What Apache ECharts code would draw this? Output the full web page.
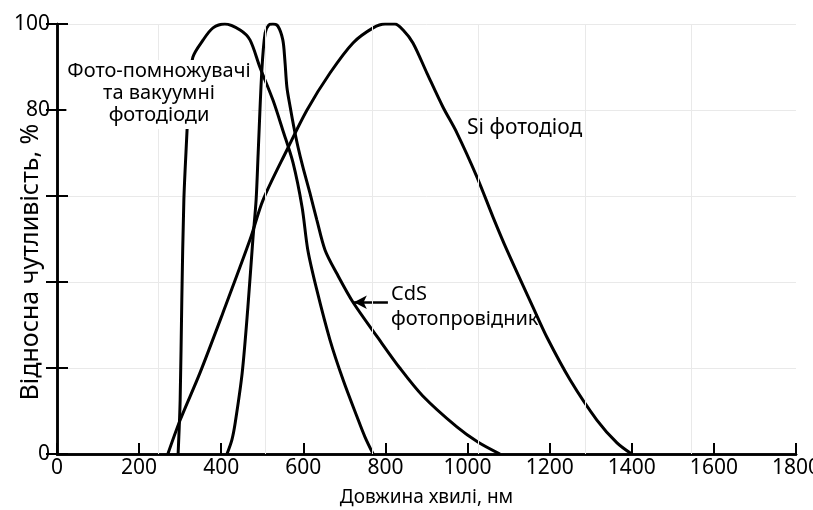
<!DOCTYPE html>
<html>
<head>
<meta charset="utf-8">
<script src="https://cdn.jsdelivr.net/npm/echarts@6/dist/echarts.min.js"></script>
<style>
  html, body { margin: 0; padding: 0; background: #fff; }
  #chart { width: 813px; height: 510px; }
</style>
</head>
<body>
<div id="chart"></div>
<script>
// відносна чутливість, % (довжина хвилі нм -> %)
var pmtX = [295, 300, 304, 309, 317, 321, 331, 356, 380, 409, 446, 470, 494, 526, 550, 575, 597, 611, 633, 665, 697, 731, 750, 770];
var pmtY = [0, 12.6, 35.8, 59.1, 75.8, 84.7, 92.3, 96.3, 99.1, 100, 98.6, 96.3, 90, 82.3, 75.3, 67.7, 57.4, 47.4, 38.1, 26.5, 17.2, 8.6, 4, 0];

var cdsX = [414, 426, 434, 451, 465, 477, 485, 490, 499, 507, 516, 526, 538, 550, 555, 560, 568, 577, 587, 599, 616, 633, 653, 682, 721, 782, 835, 891, 974, 1025, 1079];
var cdsY = [0, 3.3, 7.2, 18.8, 34.2, 49.8, 59.1, 70, 89.3, 97.9, 99.8, 100, 99.5, 96.3, 91.6, 85.3, 80.7, 76, 71.4, 66.7, 60.7, 54.4, 47.4, 41.9, 35.3, 27.0, 20.0, 13.5, 6.3, 2.8, 0];

var siX = [270, 300, 348, 404, 470, 502, 560, 609, 665, 721, 770, 799, 823, 843, 867, 901, 940, 974, 1023, 1062, 1096, 1159, 1193, 1250, 1315, 1364, 1400];
var siY = [0, 7.9, 18.8, 32.8, 49.8, 59.1, 70.7, 80, 88.6, 95.6, 99.1, 100, 100, 98.6, 95.6, 88.6, 80.7, 74.7, 64.4, 55.1, 47.4, 34.2, 27.2, 17.2, 7.9, 2.6, 0];

var xTicks = [0, 200, 400, 600, 800, 1000, 1200, 1400, 1600, 1800];
var yLabelled = [0, 80, 100];
var faintX = [246, 507, 767, 1025, 1286, 1544];

function zip(xs, ys) {
    var out = [];
    for (var i = 0; i < xs.length; i++) {
        out.push([xs[i], ys[i]]);
    }
    return out;
}

var font = 'Noto Sans';
var curveStyle = {color: '#000', width: 3};

function curve(name, xs, ys) {
    return {
        name: name,
        type: 'line',
        data: zip(xs, ys),
        smooth: 0.3,
        showSymbol: false,
        silent: true,
        lineStyle: curveStyle,
        z: 3
    };
}

var series = [
    curve('pmt', pmtX, pmtY),
    curve('cds', cdsX, cdsY),
    curve('si', siX, siY)
];

// стрілка до кривої CdS
series[1].markLine = {
    silent: true,
    symbolSize: [10, 13],
    lineStyle: {color: '#000', width: 2.5, type: 'solid'},
    label: {show: false},
    data: [[
        {coord: [806, 35.3], symbol: 'none'},
        {coord: [723, 35.3], symbol: 'arrow'}
    ]]
};

// бліді вертикальні лінії сітки
series.push({
    type: 'line',
    data: [],
    silent: true,
    markLine: {
        silent: true,
        symbol: 'none',
        label: {show: false},
        lineStyle: {color: '#e9e9e9', width: 1, type: 'solid'},
        data: faintX.map(function (v) { return {xAxis: v}; })
    },
    z: 1
});

var chart = echarts.init(document.getElementById('chart'));
chart.setOption({
    animation: false,
    backgroundColor: '#fff',
    grid: {left: 57, right: 17, top: 24, bottom: 56, outerBoundsMode: 'none', containLabel: false},
    xAxis: [{
        type: 'value',
        min: 0,
        max: 1800,
        interval: 200,
        name: 'Довжина хвилі, нм',
        nameLocation: 'middle',
        nameGap: 34,
        nameTextStyle: {color: '#000', fontSize: 19, fontFamily: font},
        axisLine: {lineStyle: {color: '#000', width: 2.5}},
        axisTick: {inside: true, length: 11, lineStyle: {color: '#000', width: 2}},
        axisLabel: {
            color: '#000', fontSize: 21, fontFamily: font, margin: 4,
            formatter: function (v) { return xTicks.indexOf(v) >= 0 ? String(v) : ''; }
        },
        splitLine: {show: false}
    }, {
        type: 'value',
        position: 'top',
        min: 0,
        max: 1800,
        axisLine: {show: true, lineStyle: {color: '#000', width: 2.5}},
        axisTick: {show: false},
        axisLabel: {show: false},
        splitLine: {show: false}
    }],
    yAxis: [{
        type: 'value',
        min: 0,
        max: 100,
        interval: 20,
        axisLine: {show: true, lineStyle: {color: '#000', width: 2.5}},
        axisTick: {inside: true, length: 11, lineStyle: {color: '#000', width: 2}},
        axisLabel: {
            color: '#000', fontSize: 21, fontFamily: font, margin: 7,
            formatter: function (v) { return yLabelled.indexOf(v) >= 0 ? String(v) : ''; }
        },
        splitLine: {show: true, lineStyle: {color: '#e9e9e9', width: 1}}
    }, {
        type: 'value',
        position: 'right',
        min: 0,
        max: 100,
        interval: 20,
        axisLine: {show: true, lineStyle: {color: '#000', width: 2.5}},
        axisTick: {inside: true, length: 11, lineStyle: {color: '#000', width: 2}},
        axisLabel: {show: false},
        splitLine: {show: false}
    }],
    series: series,
    graphic: [{
        type: 'text',
        x: 31,
        y: 262,
        rotation: Math.PI / 2,
        style: {
            text: 'Відносна чутливість, %',
            fill: '#000',
            font: '25px "Noto Sans"',
            align: 'center',
            verticalAlign: 'middle'
        }
    }, {
        type: 'text',
        x: 159,
        y: 60,
        z: 10,
        style: {
            text: 'Фото-помножувачі\nта вакуумні\nфотодіоди',
            align: 'center',
            verticalAlign: 'top',
            fill: '#000',
            font: '20px "Noto Sans"',
            lineHeight: 22,
            backgroundColor: '#fff',
            padding: [0, 1, 3, 1]
        }
    }, {
        type: 'text',
        x: 467,
        y: 118,
        z: 10,
        style: {text: 'Si фотодіод', fill: '#000', font: '21px "Noto Sans"'}
    }, {
        type: 'text',
        x: 391,
        y: 282,
        z: 10,
        style: {
            text: 'CdS\nфотопровідник',
            fill: '#000',
            font: '20px "Noto Sans"',
            lineHeight: 25
        }
    }]
});
</script>
</body>
</html>
